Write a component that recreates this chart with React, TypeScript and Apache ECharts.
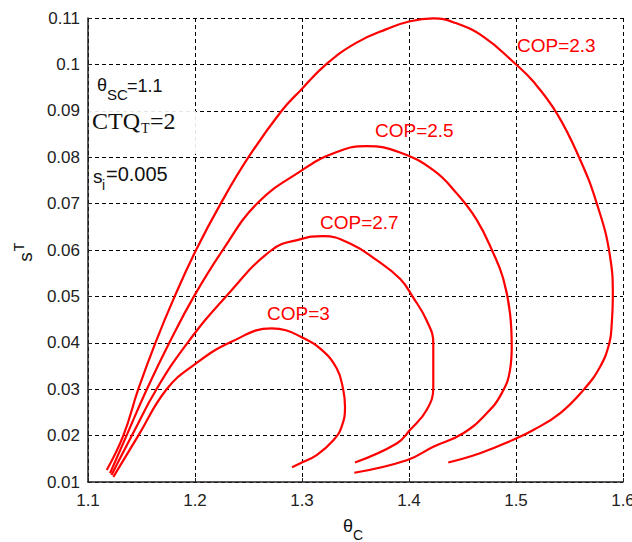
import React, { useEffect, useRef } from "react";
import * as echarts from "echarts";

// Axis ranges (θC on x, sT on y)
const X_MIN = 1.1;
const X_MAX = 1.6;
const X_STEP = 0.1;
const Y_MIN = 0.01;
const Y_MAX = 0.11;
const Y_STEP = 0.01;

const copNames = ["COP=2.3", "COP=2.5", "COP=2.7", "COP=3"];

// [θC, sT]
const cop23: number[][] = [
  [1.1175, 0.0126], [1.133, 0.02], [1.147, 0.03], [1.163, 0.04], [1.181, 0.05],
  [1.201, 0.06], [1.224, 0.07], [1.25, 0.08], [1.281, 0.09], [1.299, 0.0945],
  [1.323, 0.1001], [1.351, 0.1047], [1.379, 0.1076], [1.401, 0.1093], [1.4227, 0.1099],
  [1.4414, 0.1091], [1.4694, 0.106], [1.499, 0.1002], [1.5162, 0.0963], [1.538, 0.0895],
  [1.5583, 0.0803], [1.5754, 0.0701], [1.5879, 0.0586], [1.5905, 0.0499], [1.5895, 0.0442],
  [1.5872, 0.0399], [1.5785, 0.0348], [1.5629, 0.0298], [1.5411, 0.0248], [1.5162, 0.0212],
  [1.4975, 0.0191], [1.4664, 0.0162], [1.4367, 0.0142],
];

const cop25: number[][] = [
  [1.1206, 0.0119], [1.136, 0.02], [1.155, 0.03], [1.176, 0.04], [1.199, 0.05],
  [1.226, 0.06], [1.258, 0.07], [1.298, 0.0769], [1.329, 0.0808], [1.3604, 0.0824],
  [1.3916, 0.081], [1.4227, 0.0772], [1.4446, 0.0722], [1.4633, 0.0665], [1.4788, 0.0593],
  [1.4881, 0.0538], [1.4944, 0.0464], [1.496, 0.0392], [1.4944, 0.0341], [1.4866, 0.0291],
  [1.4726, 0.0248], [1.4507, 0.0205], [1.4227, 0.0176], [1.3979, 0.0147], [1.3489, 0.012],
];

const cop27: number[][] = [
  [1.122, 0.0115], [1.141, 0.02], [1.164, 0.03], [1.193, 0.04], [1.229, 0.05],
  [1.2717, 0.06], [1.298, 0.0623], [1.32, 0.063], [1.3449, 0.0614], [1.3698, 0.0578],
  [1.3916, 0.0538], [1.4035, 0.0499], [1.4165, 0.0448], [1.4227, 0.0399], [1.4227, 0.0305],
  [1.4165, 0.0255], [1.4009, 0.0212], [1.3885, 0.0183], [1.3495, 0.0142],
];

const cop30: number[][] = [
  [1.1237, 0.0111], [1.147, 0.02], [1.1735, 0.03], [1.2, 0.0354], [1.234, 0.0402],
  [1.2717, 0.0431], [1.285, 0.0427], [1.298, 0.0414], [1.3168, 0.0388], [1.3324, 0.0345],
  [1.3386, 0.0298], [1.3402, 0.0262], [1.337, 0.0219], [1.3293, 0.019], [1.3137, 0.0158],
  [1.298, 0.014], [1.2907, 0.0132],
];

const curves = [cop23, cop25, cop27, cop30];

// label anchor (left-middle of text) in data coordinates
const labelAnchors: number[][] = [
  [1.5009, 0.1041],
  [1.3682, 0.0858],
  [1.3168, 0.0659],
  [1.2673, 0.0464],
];

const SANS = "'Liberation Sans', Arial, sans-serif";
const SERIF = "'Liberation Serif', 'Times New Roman', serif";

export default function App() {
  const ref = useRef<HTMLDivElement>(null);

  useEffect(() => {
    if (!ref.current) return;
    const chart = echarts.init(ref.current, undefined, { renderer: "svg" });

    const txt = (
      text: string,
      x: number,
      y: number,
      size: number,
      family = SANS,
      extra: any = {}
    ) => ({
      type: "text",
      x,
      y,
      z: 10,
      silent: true,
      style: {
        text,
        fill: "#111",
        font: `${size}px ${family}`,
        textAlign: "left",
        textVerticalAlign: "middle",
        ...extra,
      },
    });

    const option: any = {
      animation: false,
      backgroundColor: "#ffffff",
      grid: {
        left: 88,
        right: 9,
        top: 18,
        bottom: 60,
        outerBoundsMode: "none",
      },
      xAxis: {
        type: "value",
        min: X_MIN,
        max: X_MAX,
        interval: X_STEP,
        axisLine: { show: true, onZero: false, lineStyle: { color: "#222", width: 1.5 } },
        axisTick: { show: true, inside: true, length: 4, lineStyle: { color: "#222" } },
        axisLabel: {
          color: "#222",
          fontSize: 17,
          fontFamily: SANS,
          margin: 10,
          formatter: (v: number) => String(+v.toFixed(1)),
        },
        splitLine: {
          show: true,
          lineStyle: { color: "#000", width: 1, type: [4, 3] },
        },
      },
      yAxis: {
        type: "value",
        min: Y_MIN,
        max: Y_MAX,
        interval: Y_STEP,
        axisLine: { show: true, onZero: false, lineStyle: { color: "#222", width: 1.5 } },
        axisTick: { show: true, inside: true, length: 4, lineStyle: { color: "#222" } },
        axisLabel: {
          color: "#222",
          fontSize: 17,
          fontFamily: SANS,
          margin: 8,
          formatter: (v: number) => String(+v.toFixed(2)),
        },
        splitLine: {
          show: true,
          lineStyle: { color: "#000", width: 1, type: [4, 3] },
        },
      },
      series: curves.map((d, i) => ({
        type: "line",
        name: copNames[i],
        data: d,
        smooth: 0.45,
        symbol: "none",
        showSymbol: false,
        lineStyle: { color: "#ff0000", width: 2.2 },
        z: 3,
        markPoint: {
          symbol: "circle",
          symbolSize: 0,
          silent: true,
          itemStyle: { color: "#ff0000" },
          data: [
            {
              coord: labelAnchors[i],
              label: {
                show: true,
                position: "right",
                distance: 0,
                formatter: copNames[i],
                color: "#ff0000",
                fontSize: 19,
                fontFamily: SANS,
              },
            },
          ],
        },
      })),
      graphic: [
        {
          type: "rect",
          z: 1,
          silent: true,
          shape: { x: 89, y: 111, width: 107, height: 43 },
          style: { fill: "rgba(255,255,255,0.9)" },
        },
        // θSC=1.1
        txt("θ", 97, 85, 18),
        txt("SC", 107, 94, 15),
        txt("=1.1", 127, 86, 18),
        // CTQT=2
        txt("CTQ", 92, 121, 24, SERIF),
        txt("T", 141, 128, 14, SERIF),
        txt("=2", 150, 121, 24, SERIF),
        // si=0.005
        txt("s", 93, 176, 19),
        txt("i", 102, 185, 14),
        txt("=0.005", 106, 174, 20),
        // x axis name θC
        txt("θ", 343, 526, 18),
        txt("C", 353, 535, 14),
        // y axis name sT (rotated)
        {
          type: "text",
          x: 25,
          y: 257,
          rotation: Math.PI / 2,
          z: 10,
          silent: true,
          style: {
            text: "s",
            fill: "#111",
            font: `19px ${SANS}`,
            textAlign: "center",
            textVerticalAlign: "middle",
          },
        },
        {
          type: "text",
          x: 19,
          y: 247,
          rotation: Math.PI / 2,
          z: 10,
          silent: true,
          style: {
            text: "T",
            fill: "#111",
            font: `14px ${SANS}`,
            textAlign: "center",
            textVerticalAlign: "middle",
          },
        },
      ],
    };

    chart.setOption(option);
    return () => {
      chart.dispose();
    };
  }, []);

  return (
    <div
      ref={ref}
      style={{
        position: "fixed",
        left: 0,
        top: 0,
        width: 632,
        height: 542,
        background: "#fff",
      }}
    />
  );
}
